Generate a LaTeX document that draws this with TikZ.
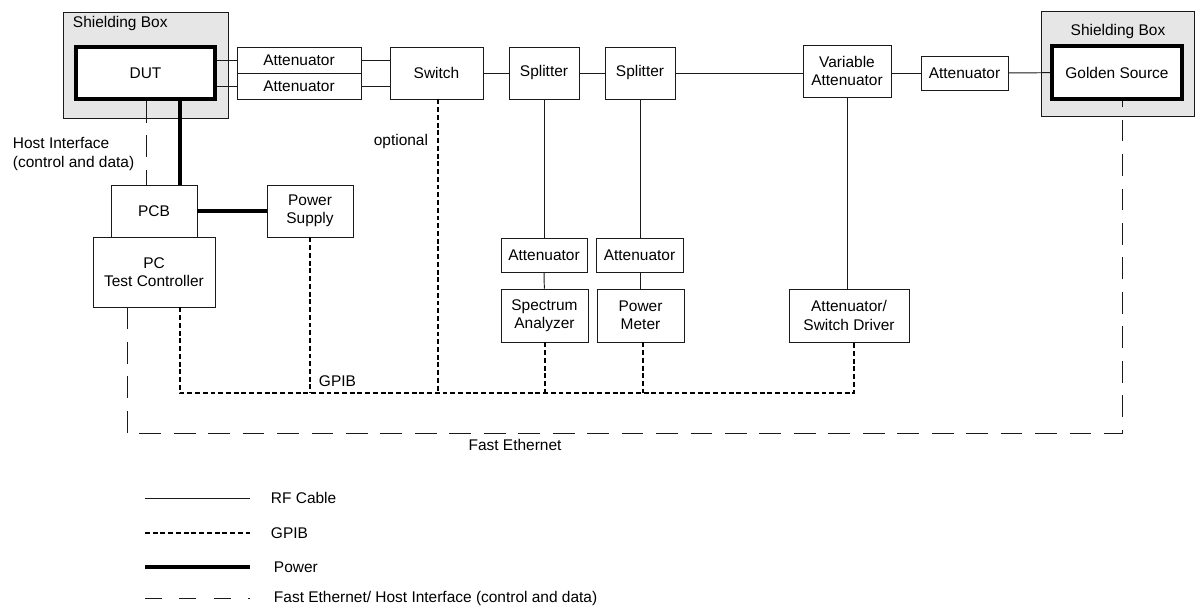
\documentclass[tikz,border=0pt]{standalone}
\usepackage{fontspec}
\setmainfont{Liberation Sans}
\usetikzlibrary{positioning, calc}
\definecolor{shield}{HTML}{E6E6E6}
\definecolor{ink}{HTML}{1A1A1A}

\begin{document}
\begin{tikzpicture}[x=0.025cm, y=-0.025cm, font=\fontsize{11}{13}\selectfont,
    sz/.style 2 args={minimum width=#1*0.025cm, minimum height=#2*0.025cm},
    box/.style={draw=ink, line width=0.7pt, fill=white, align=center, inner sep=0pt},
    dutbox/.style={box, draw=black, line width=2.8pt},
    shieldbox/.style={draw=ink, line width=0.7pt, fill=shield},
    rf/.style={draw=ink, line width=0.7pt},
    power/.style={draw=black, line width=2.8pt},
    gpib/.style={draw=black, line width=1.3pt, dash pattern=on 3.5pt off 2pt},
    eth/.style={draw=ink, line width=0.7pt, dash pattern=on 15.5pt off 9pt}]

  \useasboundingbox (0,0) rectangle (1195,609);

  % shielding boxes
  \draw[shieldbox] (63,12) rectangle (228,118);
  \draw[shieldbox] (1041,11) rectangle (1194,116);
  \node[anchor=west] (sbl) at (68,24) {Shielding Box};
  \node (sbr) at (1118,32) {Shielding Box};

  % RF chain
  \node[dutbox, sz={139}{52}] (dut) at (145.5,73) {DUT};
  \node[box, sz={124}{26}] (att1) at (299,60) {Attenuator};
  \node[box, sz={124}{26}] (att2) at (299,86) {Attenuator};
  \node[box, sz={93}{52}] (sw) at (436.5,73) {Switch};
  \node[box, sz={70}{52}] (spl1) at (544,73) {Splitter};
  \node[box, sz={70}{52}] (spl2) at (640,73) {Splitter};
  \node[box, sz={88}{52}] (vatt) at (847,71) {Variable\\Attenuator};
  \node[box, sz={87}{34}] (att3) at (964.5,73) {Attenuator};
  \node[dutbox, sz={130}{53}] (gold) at (1117,72.5) {Golden Source};

  % control side
  \node[box, sz={86}{52}] (pcb) at (154,211) {PCB};
  \node[box, sz={122}{70}] (pc) at (154,272) {PC\\Test Controller};
  \node[box, sz={86}{52}] (ps) at (310,211) {Power\\Supply};

  % measurement
  \node[box, sz={86}{34}] (atta) at (544,255) {Attenuator};
  \node[box, sz={87}{34}] (attb) at (639.5,255) {Attenuator};
  \node[box, sz={87}{53}] (sa) at (544.5,315.5) {Spectrum\\Analyzer};
  \node[box, sz={87}{53}] (pm) at (640.5,315.5) {Power\\Meter};
  \node[box, sz={120}{53}] (drv) at (849,315.5) {Attenuator/\\Switch Driver};

  % RF cables
  \draw[rf] (att1.west -| dut.east) -- (att1.west);
  \draw[rf] (att2.west -| dut.east) -- (att2.west);
  \draw[rf] (att1.east) -- (att1.east -| sw.west);
  \draw[rf] (att2.east) -- (att2.east -| sw.west);
  \draw[rf] (sw) -- (spl1);
  \draw[rf] (spl1) -- (spl2);
  \draw[rf] (spl2.east) -- (spl2.east -| vatt.west);
  \draw[rf] (vatt.east |- att3.west) -- (att3.west);
  \draw[rf] (att3) -- (gold);
  \draw[rf] (spl1.south) -- (atta.north);
  \draw[rf] (atta) -- (sa);
  \draw[rf] (spl2.south) -- (spl2.south |- attb.north);
  \draw[rf] (attb.south -| spl2.south) -- (pm.north -| spl2.south);
  \draw[rf] (vatt.south) -- (vatt.south |- drv.north);

  % power
  \coordinate (pwrx) at (180,0);
  \draw[power] (dut.south -| pwrx) -- (pcb.north -| pwrx);
  \draw[power] (pcb.east) -- (ps.west);

  % host interface
  \coordinate (hostx) at (146,0);
  \draw[eth] (dut.south -| hostx) -- (pcb.north -| hostx);
  \node[anchor=west, align=left] (hostlbl) at (8,154) {Host Interface\\(control and data)};

  % GPIB bus
  \coordinate (busr) at (854,393);
  \draw[gpib] (pc.south -| pwrx) |- (busr) -- (drv.south -| busr);
  \draw[gpib] (ps.south) -- (ps.south |- busr);
  \coordinate (swx) at (438,0);
  \draw[gpib] (sw.south -| swx) -- (busr -| swx);
  \coordinate (sax) at (545,0);
  \draw[gpib] (sa.south -| sax) -- (busr -| sax);
  \coordinate (pmx) at (643,0);
  \draw[gpib] (pm.south -| pmx) -- (busr -| pmx);
  \node[anchor=east] (optlbl) at (433,142) {optional};
  \node[anchor=west] (gpiblbl) at (314,381) {GPIB};

  % fast ethernet
  \coordinate (ethx) at (127,0);
  \coordinate (ethr) at (1122.5,433);
  \draw[eth] (pc.south -| ethx) |- (ethr) -- (gold.south -| ethr);
  \node (ethlbl) at (515,445) {Fast Ethernet};

  % legend
  \node[anchor=west] (lgrf) at (266,498) {RF Cable};
  \node[anchor=west] (lggpib) at (266,533) {GPIB};
  \node[anchor=west] (lgpow) at (269,567) {Power};
  \node[anchor=west] (lgeth) at (269,598) {Fast Ethernet/ Host Interface (control and data)};
  \draw[rf] (lgrf.west) ++(-121,0) -- ++(105,0);
  \draw[gpib] (lggpib.west) ++(-121,0) -- ++(105,0);
  \draw[power] (lgpow.west) ++(-124,0) -- ++(105,0);
  \draw[eth, dash pattern=on 12pt off 12.5pt] (lgeth.west) ++(-124,0) -- ++(105,0);
\end{tikzpicture}
\end{document}
